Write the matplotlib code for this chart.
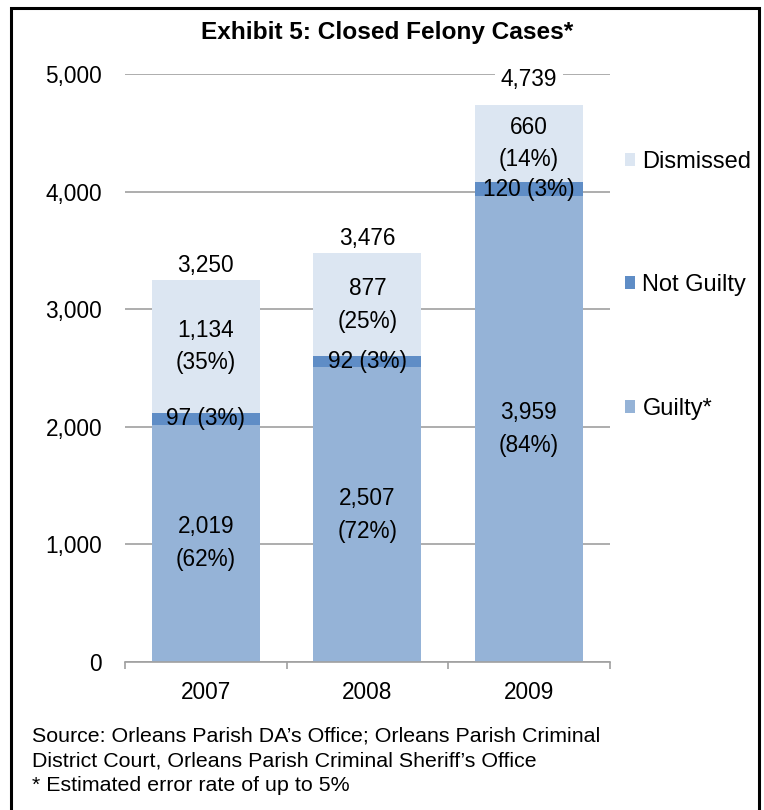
#Stacked bar chart of closed felony cases by outcome, 2007-2009
import matplotlib.pyplot as plt
import numpy as np
from matplotlib.patches import Rectangle

plt.rcParams['font.family'] = ['Liberation Sans', 'DejaVu Sans']

years = ['2007', '2008', '2009']
guilty = [2019, 2507, 3959]
not_guilty = [97, 92, 120]
dismissed = [1134, 877, 660]
guilty_pct = [62, 72, 84]
not_guilty_pct = [3, 3, 3]
dismissed_pct = [35, 25, 14]
totals = [3250, 3476, 4739]

c_guilty = '#95b3d7'
c_not = '#5f8dc6'
c_dism = '#dce6f2'

fig = plt.figure(figsize=(7.64, 8.10), dpi=100)
ax = fig.add_axes([0.1636, 0.1827, 0.798 - 0.1636, 0.9086 - 0.1827])
ax.set_axisbelow(True)

x = np.arange(len(years))
w = 0.667
g = np.array(guilty)
n = np.array(not_guilty)
d = np.array(dismissed)

ax.bar(x, g, w, color=c_guilty, label='Guilty*', zorder=2)
ax.bar(x, n, w, bottom=g, color=c_not, label='Not Guilty', zorder=2)
ax.bar(x, d, w, bottom=g + n, color=c_dism, label='Dismissed', zorder=2)

fs = 16.3
# the 2009 total sits a bit higher, over the top gridline
total_gap = [125, 125, 215]
for i in range(len(years)):
    ax.text(x[i], g[i] / 2, f'{guilty[i]:,}\n({guilty_pct[i]}%)', ha='center', va='center',
            fontsize=fs, linespacing=1.55, zorder=3)
    ax.text(x[i], g[i] + n[i] / 2, f'{not_guilty[i]:,} ({not_guilty_pct[i]}%)', ha='center',
            va='center', fontsize=fs, zorder=3)
    ax.text(x[i], g[i] + n[i] + d[i] / 2, f'{dismissed[i]:,}\n({dismissed_pct[i]}%)', ha='center',
            va='center', fontsize=fs, linespacing=1.55, zorder=3)
    # white box hides the gridline behind the total, drawn under the bars
    ax.text(x[i], totals[i] + total_gap[i], f'{totals[i]:,}', ha='center', va='center', fontsize=fs,
            zorder=1, bbox=dict(facecolor='white', edgecolor='none', pad=4))

ax.set_xlim(-0.5, 2.5)
ax.set_ylim(0, 5000)
ax.set_yticks(range(0, 5001, 1000))
ax.set_yticklabels([f'{v:,}' for v in range(0, 5001, 1000)], fontsize=fs)
ax.yaxis.grid(True, color='#a0a0a0', linewidth=1.2)
ax.tick_params(axis='y', length=0, pad=16.5)

ax.set_xticks(x)
ax.set_xticklabels(years, fontsize=fs)
ax.set_xticks([-0.5, 0.5, 1.5, 2.5], minor=True)
ax.tick_params(axis='x', which='major', length=0, pad=14)
ax.tick_params(axis='x', which='minor', length=5, color='#a0a0a0', width=1.2)

for s in ['top', 'right', 'left']:
    ax.spines[s].set_visible(False)
ax.spines['bottom'].set_color('#a0a0a0')
ax.spines['bottom'].set_linewidth(1.2)

h, l = ax.get_legend_handles_labels()
leg = fig.legend(h[::-1], l[::-1], loc='upper left', bbox_to_anchor=(0.802, 0.8286), frameon=False,
                 fontsize=17, handlelength=0.46, handleheight=0.46, handletextpad=0.3,
                 labelspacing=4.3, borderpad=0)

fig.text(0.507, 0.96, 'Exhibit 5: Closed Felony Cases*', ha='center', va='center',
         fontsize=17.6, fontweight='bold')

fig.text(0.042, 0.0605, "Source: Orleans Parish DA\u2019s Office; Orleans Parish Criminal\n"
         "District Court, Orleans Parish Criminal Sheriff\u2019s Office\n"
         "* Estimated error rate of up to 5%", ha='left', va='center', fontsize=15.4, linespacing=1.37)

fig.patches.append(Rectangle((11 / 764, -0.01), (759 - 11) / 764, 1 - 8 / 810 + 0.01,
                             transform=fig.transFigure, fill=False, edgecolor='black',
                             linewidth=2.2, zorder=10))

fig.savefig('out.png', dpi=100)
